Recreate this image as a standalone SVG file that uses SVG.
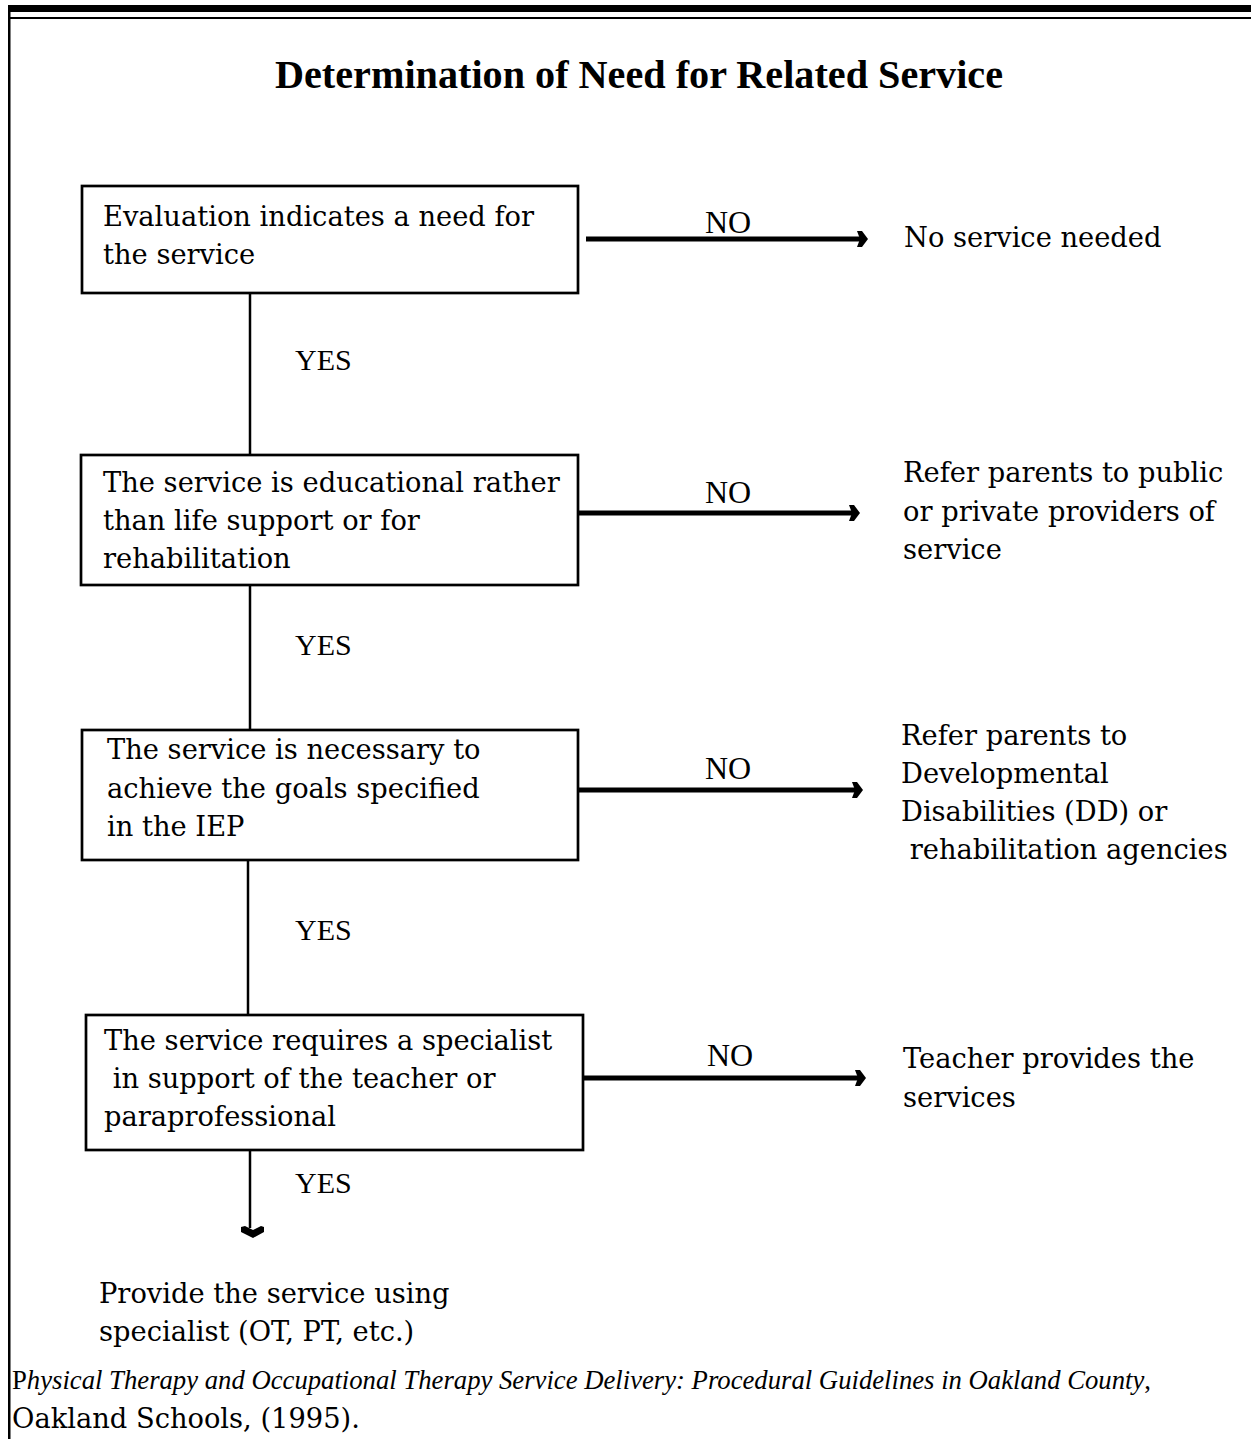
<svg xmlns="http://www.w3.org/2000/svg" width="1251" height="1439" viewBox="0 0 1251 1439">
<style>
.box{fill:#fff;stroke:#000;stroke-width:2.7}
.t{font-family:"DejaVu Serif","Liberation Serif",serif;font-size:27.3px;fill:#000}
.lbl{font-family:"Liberation Serif",serif;font-size:30px;fill:#000}
.nol{font-family:"Liberation Serif",serif;font-size:32px;fill:#000}
.title{font-family:"Liberation Serif",serif;font-size:40.2px;font-weight:bold;fill:#000}
.no{stroke:#000;stroke-width:5;fill:none}
.yes{stroke:#000;stroke-width:2.5;fill:none}
.cite{font-family:"Liberation Serif",serif;font-size:26.7px;fill:#000}
</style>
<defs>
<marker id="ah" markerWidth="12" markerHeight="20" refX="7" refY="10" orient="auto" markerUnits="userSpaceOnUse">
<path d="M0,2 L5,2 L11,10 L5,18 L0,18 L3,10 Z" fill="#000"/>
</marker>
</defs>
<rect width="1251" height="1439" fill="#fff"/>
<g id="frame">
<rect x="8" y="5" width="1243" height="7" fill="#000"/>
<rect x="10" y="17" width="1241" height="2" fill="#000"/>
<rect x="8" y="5" width="2.5" height="1434" fill="#000"/>
</g>
<text class="title" x="639" y="88" text-anchor="middle">Determination of Need for Related Service</text>
<g id="connectors">
<line class="no" x1="586" y1="239" x2="864" y2="239" marker-end="url(#ah)"/>
<line class="no" x1="578" y1="513" x2="856" y2="513" marker-end="url(#ah)"/>
<line class="no" x1="578" y1="790" x2="859" y2="790" marker-end="url(#ah)"/>
<line class="no" x1="583" y1="1078" x2="862" y2="1078" marker-end="url(#ah)"/>
<line class="yes" x1="250" y1="293" x2="250" y2="455"/>
<line class="yes" x1="250" y1="585" x2="250" y2="730"/>
<line class="yes" x1="248" y1="860" x2="248" y2="1015"/>
<line class="yes" x1="250" y1="1150" x2="250" y2="1228"/>
<path d="M241,1227 L245,1226 L253,1230 L261,1226 L264,1227 L264,1232 L253,1238 L241,1232 Z" fill="#000"/>
<text class="nol" x="728" y="233" text-anchor="middle">NO</text>
<text class="nol" x="728" y="503" text-anchor="middle">NO</text>
<text class="nol" x="728" y="779" text-anchor="middle">NO</text>
<text class="nol" x="730" y="1066" text-anchor="middle">NO</text>
<text class="lbl" x="295" y="370">YES</text>
<text class="lbl" x="295" y="655">YES</text>
<text class="lbl" x="295" y="940">YES</text>
<text class="lbl" x="295" y="1193">YES</text>
</g>
<g id="n1">
<rect class="box" x="82" y="186" width="496" height="107"/>
<text class="t" x="103" y="226">Evaluation indicates a need for</text>
<text class="t" x="103" y="264">the service</text>
</g>
<g id="n1no">
<text class="t" x="904" y="247">No service needed</text>
</g>
<g id="n2">
<rect class="box" x="81" y="455" width="497" height="130"/>
<text class="t" x="103" y="492">The service is educational rather</text>
<text class="t" x="103" y="530">than life support or for</text>
<text class="t" x="103" y="568">rehabilitation</text>
</g>
<g id="n2no">
<text class="t" x="903" y="482">Refer parents to public</text>
<text class="t" x="903" y="521">or private providers of</text>
<text class="t" x="903" y="559">service</text>
</g>
<g id="n3">
<rect class="box" x="82" y="730" width="496" height="130"/>
<text class="t" x="107" y="759">The service is necessary to</text>
<text class="t" x="107" y="798">achieve the goals specified</text>
<text class="t" x="107" y="836">in the IEP</text>
</g>
<g id="n3no">
<text class="t" x="901" y="745">Refer parents to</text>
<text class="t" x="901" y="783">Developmental</text>
<text class="t" x="901" y="821">Disabilities (DD) or</text>
<text class="t" x="901" y="859" xml:space="preserve"> rehabilitation agencies</text>
</g>
<g id="n4">
<rect class="box" x="86" y="1015" width="497" height="135"/>
<text class="t" x="104" y="1050">The service requires a specialist</text>
<text class="t" x="104" y="1088" xml:space="preserve"> in support of the teacher or</text>
<text class="t" x="104" y="1126">paraprofessional</text>
</g>
<g id="n4no">
<text class="t" x="903" y="1068">Teacher provides the</text>
<text class="t" x="903" y="1107">services</text>
</g>
<g id="n5">
<text class="t" x="99" y="1303">Provide the service using</text>
<text class="t" x="99" y="1341">specialist (OT, PT, etc.)</text>
</g>
<g id="citation">
<text class="cite" x="12" y="1389">P<tspan font-style="italic">hysical Therapy and Occupational Therapy Service Delivery: Procedural Guidelines in Oakland County</tspan>,</text>
<text class="t" x="12" y="1428" font-size="24.8px">Oakland Schools, (1995).</text>
</g>
</svg>
